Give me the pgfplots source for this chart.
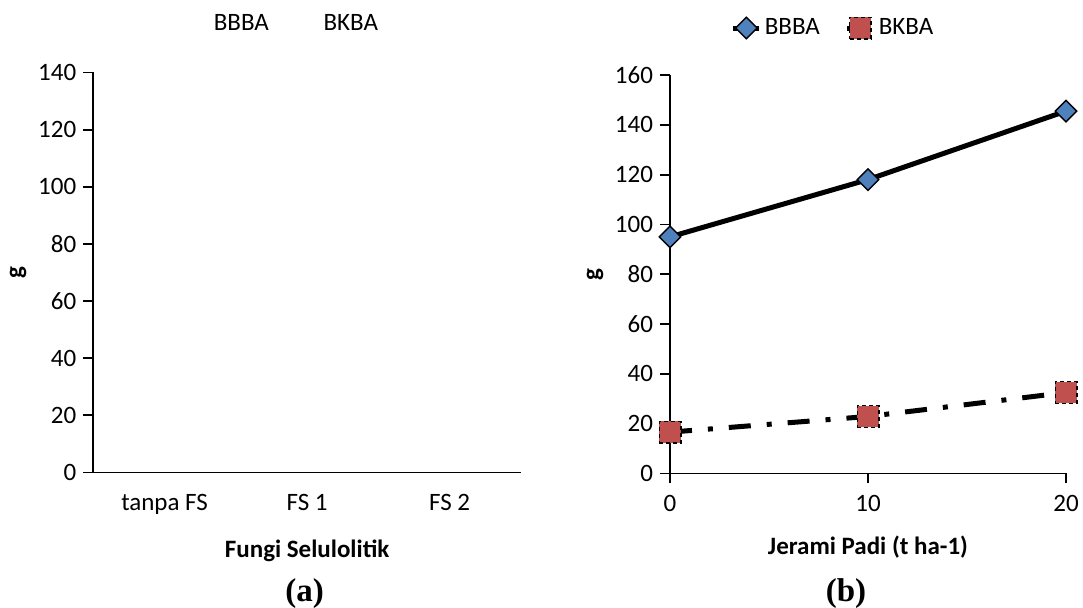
\documentclass[border=0pt]{standalone}
\usepackage{pgfplots}
\pgfplotsset{compat=1.18}
\usepackage{fontspec}
\setmainfont{Carlito}
\newfontfamily\timesfont{Liberation Serif}
\definecolor{bblue}{HTML}{4F81BD}
\definecolor{bred}{HTML}{C0504D}
\pgfplotsset{
  myaxis/.style={
    scale only axis,
    axis lines=left,
    axis line style={-, line width=0.9pt},
    every tick/.style={black, line width=0.9pt},
    tick align=outside,
    major tick length=5pt,
    xtick pos=bottom, ytick pos=left,
    font=\fontsize{12.5}{15}\selectfont,
    tick label style={font=\fontsize{12.5}{15}\selectfont},
    /pgf/number format/assume math mode=true,
    label style={font=\bfseries\fontsize{12.5}{15}\selectfont},
    xticklabel style={anchor=base, yshift=-14pt},
    ylabel={g},
    ylabel style={at={(axis description cs:0,0.5)}, anchor=center},
    xlabel style={at={(axis description cs:0.5,0)}, anchor=base},
    clip=false,
    legend columns=2,
    legend style={draw=none, fill=none, inner xsep=0pt, inner ysep=0pt, anchor=center,
      font=\fontsize{12.5}{15}\selectfont,
      nodes={inner sep=1.5pt},
      /tikz/every even column/.append style={column sep=11pt}},
    legend image code/.code={\draw[mark repeat=2,mark phase=2,##1] plot coordinates {(0pt,0pt) (6.5pt,0pt) (13pt,0pt)};},
  }
}
\begin{document}
\begin{tikzpicture}
\useasboundingbox (0,0) rectangle (541.5pt,304pt);
% (a)
\begin{axis}[myaxis,
  at={(46.65pt,67.75pt)}, anchor=south west,
  width=213.85pt, height=200pt,
  xmin=-0.5, xmax=2.5, ymin=0, ymax=140,
  xtick={0,1,2}, xticklabels={tanpa FS, FS 1, FS 2},
  x tick style={draw=none},
  ytick={0,20,...,140},
  xlabel={Fungi Selulolitik},
  xlabel style={yshift=-42.75pt},
  ylabel style={yshift=37.65pt},
  legend style={at={(axis description cs:0.4424,1.121)}},
]
\addlegendimage{draw opacity=0}
\addlegendentry{BBBA}
\addlegendimage{draw opacity=0}
\addlegendentry{BKBA}
\end{axis}
% (b)
\begin{axis}[myaxis,
  at={(335pt,67.25pt)}, anchor=south west,
  width=198pt, height=199.25pt,
  xmin=0, xmax=20, ymin=0, ymax=160,
  xtick={0,10,20},
  ytick={0,20,...,160},
  xlabel={Jerami Padi (t ha-1)},
  xlabel style={yshift=-40.75pt},
  ylabel style={yshift=37.5pt},
  legend style={at={(axis description cs:0.4129,1.1179)}},
]
\addplot[black, line width=2.5pt, mark=square*, mark size=3.8pt,
  mark options={rotate=45, fill=bblue, draw=black, line width=0.7pt, solid}]
  coordinates {(0,95) (10,118) (20,145.5)};
\addlegendentry{BBBA}
\addplot[black, line width=2.5pt, dash pattern=on 11pt off 8pt on 2.5pt off 8pt,
  mark=square*, mark size=5.4pt,
  mark options={fill=bred, draw=black, line width=0.7pt, dash pattern=on 2pt off 1.5pt}]
  coordinates {(0,16.6) (10,22.9) (20,32.5)};
\addlegendentry{BKBA}
\end{axis}
\node[font=\timesfont\bfseries\fontsize{16.5}{19}\selectfont, anchor=base] at (152.25pt,3pt) {(a)};
\node[font=\timesfont\bfseries\fontsize{16.5}{19}\selectfont, anchor=base] at (423pt,3pt) {(b)};
\end{tikzpicture}
\end{document}
